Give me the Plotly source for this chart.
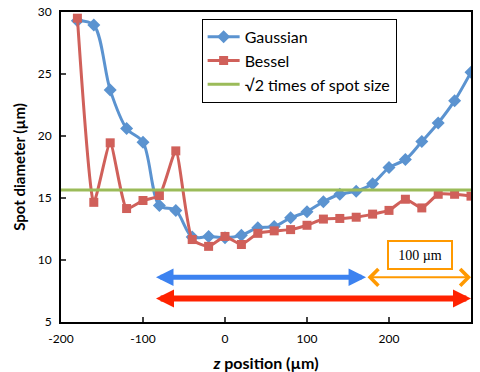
import plotly.graph_objects as go

z_pos = [-180, -160, -140, -120, -100, -80, -60, -40, -20, 0, 20, 40, 60, 80, 100,
         120, 140, 160, 180, 200, 220, 240, 260, 280, 300]
gaussian = [29.3, 28.95, 23.7, 20.6, 19.5, 14.4, 14.0, 11.85, 11.9, 11.8, 12.0, 12.6, 12.7,
            13.4, 13.9, 14.7, 15.3, 15.55, 16.15, 17.45, 18.1, 19.55, 21.05, 22.85, 25.15]
bessel = [29.5, 14.65, 19.45, 14.15, 14.8, 15.2, 18.8, 11.65, 11.1, 11.9, 11.25, 12.15, 12.35,
          12.45, 12.8, 13.3, 13.35, 13.45, 13.7, 14.0, 14.9, 14.2, 15.3, 15.3, 15.15]
sqrt2_z = [-200, 300]
sqrt2_val = [15.65, 15.65]

x_ticks = [-200, -100, 0, 100, 200, 300]
x_tick_labels = ["-200", "-100", "0", "100", "200", "300"]
y_ticks = [5, 10, 15, 20, 25, 30]

# range arrows (data units): [z_start, z_end, y]
blue_span = [-86, 172, 8.6]
orange_span = [172, 300, 8.6]
red_span = [-86, 300, 6.9]
label_pos = [238, 10.4]

FONT = "Lato"
fig = go.Figure()
fig.add_trace(go.Scatter(x=z_pos, y=gaussian, name="Gaussian", mode="lines+markers",
                         line=dict(color="#5b93d0", width=3, shape="spline", smoothing=0.9),
                         marker=dict(symbol="diamond", size=10, color="#5b93d0")))
fig.add_trace(go.Scatter(x=z_pos, y=bessel, name="Bessel", mode="lines+markers",
                         line=dict(color="#d0605a", width=3, shape="spline", smoothing=0.5),
                         marker=dict(symbol="square", size=9, color="#d0605a")))
fig.add_trace(go.Scatter(x=sqrt2_z, y=sqrt2_val, name="√2 times of spot size", mode="lines",
                         line=dict(color="#9bbb59", width=3)))

def arrow(span, color, width, head, size):
    return dict(x=span[1], y=span[2], ax=span[0], ay=span[2], xref="x", yref="y",
                axref="x", ayref="y", text="", showarrow=True, arrowside="end+start",
                arrowhead=head, arrowsize=size, arrowwidth=width, arrowcolor=color,
                standoff=0, startstandoff=0)

fig.update_layout(
    width=480, height=372,
    margin=dict(l=61, r=9, t=12, b=50, autoexpand=False),
    paper_bgcolor="white", plot_bgcolor="white",
    font=dict(family=FONT, size=12, color="black"),
    showlegend=True,
    legend=dict(x=0.343, y=0.978, xanchor="left", yanchor="top",
                bordercolor="black", borderwidth=1, bgcolor="white",
                font=dict(family=FONT, size=16), tracegroupgap=0, itemwidth=32),
    xaxis=dict(range=[-200, 300], tickvals=x_ticks, ticktext=x_tick_labels,
               ticks="inside", ticklen=5,
               tickwidth=1.5, showline=True, linecolor="black", linewidth=2, mirror=True,
               showgrid=False, zeroline=False, automargin=False, ticklabelstandoff=5,
               title=dict(text="<b><i>z</i> position (µm)</b>", font=dict(size=16), standoff=14)),
    yaxis=dict(range=[5, 30], tickvals=y_ticks, ticks="inside", ticklen=5,
               tickwidth=1.5, showline=True, linecolor="black", linewidth=2, mirror=True,
               showgrid=False, zeroline=False, automargin=False, ticklabelstandoff=5,
               title=dict(text="<b>Spot diameter (µm)</b>", font=dict(size=15), standoff=8)),
    annotations=[
        arrow(blue_span, "#3c82f0", 5, 2, 0.7),
        arrow(orange_span, "#ff9900", 2, 4, 1.6),
        arrow(red_span, "#ff2200", 6, 2, 0.6),
        dict(x=label_pos[0], y=label_pos[1], xref="x", yref="y", text="100 µm",
             showarrow=False, font=dict(family="Liberation Serif", size=14, color="black"),
             bordercolor="#ff9900", borderwidth=2, bgcolor="white", width=60, height=24),
    ],
)
fig.write_html("out.html")
